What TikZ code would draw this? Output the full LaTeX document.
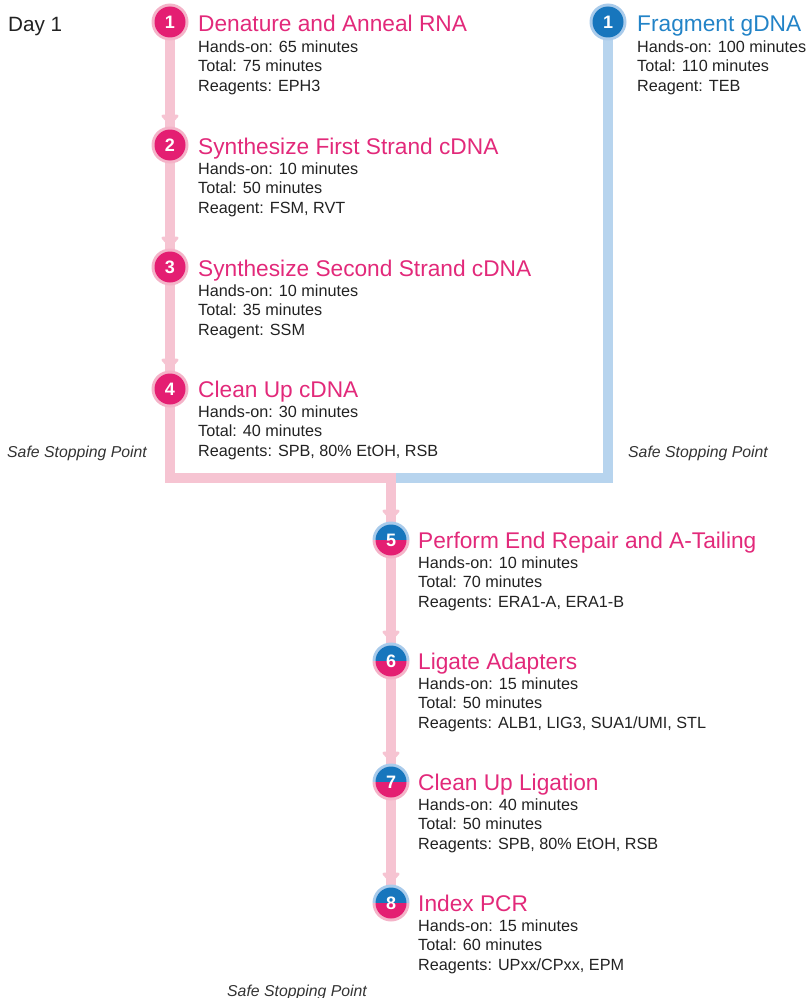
\documentclass[tikz,border=0pt]{standalone}
\usepackage{fontspec}
\setmainfont{Liberation Sans}
\usetikzlibrary{arrows.meta}
\definecolor{dotpink}{HTML}{E41E72}
\definecolor{titlepink}{HTML}{E2297A}
\definecolor{halopink}{HTML}{F4B3C8}
\definecolor{linepink}{HTML}{F6C4D2}
\definecolor{dotblue}{HTML}{1776BD}
\definecolor{titleblue}{HTML}{2283C7}
\definecolor{haloblue}{HTML}{A9CBEB}
\definecolor{lineblue}{HTML}{B7D4EE}
\definecolor{bodytext}{HTML}{222222}
\definecolor{notetext}{HTML}{333333}
\tikzset{
  stepdot/.style={circle, minimum size=37pt, inner sep=0pt, outer sep=0pt, text=white,
    font=\bfseries\fontsize{18}{18}\selectfont},
  pinkdot/.style={stepdot, fill=halopink,
    path picture={\fill[dotpink] (path picture bounding box.center) circle[radius=15.5pt];}},
  bluedot/.style={stepdot, fill=haloblue,
    path picture={\fill[dotblue] (path picture bounding box.center) circle[radius=15.5pt];}},
  splitdot/.style={stepdot,
    path picture={
      \fill[haloblue] (path picture bounding box.center) ++(-20pt,0pt) rectangle ++(40pt,20pt);
      \fill[halopink] (path picture bounding box.center) ++(-20pt,0pt) rectangle ++(40pt,-20pt);
      \begin{scope}
        \clip (path picture bounding box.center) circle[radius=15.5pt];
        \fill[dotblue] (path picture bounding box.center) ++(-20pt,0pt) rectangle ++(40pt,20pt);
        \fill[dotpink] (path picture bounding box.center) ++(-20pt,0pt) rectangle ++(40pt,-20pt);
      \end{scope}}},
  steptitle/.style={anchor=base west, inner sep=0pt, text=titlepink,
    font=\fontsize{22.7}{24}\selectfont},
  bluetitle/.style={steptitle, text=titleblue},
  stepbody/.style={anchor=base west, inner sep=0pt, text=bodytext, align=left,
    font=\fontsize{16.2}{19.8}\selectfont},
  stopnote/.style={anchor=base west, inner sep=0pt, text=notetext,
    font=\itshape\fontsize{15.8}{18}\selectfont},
  pinkflow/.style={draw=linepink, line width=10pt, line join=miter},
  blueflow/.style={draw=lineblue, line width=10pt, line join=miter},
  pinkarrow/.style={pinkflow, -{Triangle[width=20pt,length=11pt,round=false]}, shorten >=1.5pt}
}
\begin{document}
\begin{tikzpicture}[x=1pt,y=-1pt]
\useasboundingbox (0,0) rectangle (807,998);
% junction coordinates
\coordinate (pj) at (170,478);
\coordinate (mj) at (396,478);
\coordinate (bj) at (608,478);
\coordinate (dj) at (391,473);
% dot positions
\coordinate (c1) at (170,22);
\coordinate (c2) at (170,145);
\coordinate (c3) at (170,267);
\coordinate (c4) at (170,389);
\coordinate (b1) at (608,22);
\coordinate (c5) at (391,540);
\coordinate (c6) at (391,661);
\coordinate (c7) at (391,782);
\coordinate (c8) at (391,903);
% connectors (behind dots)
\path[pinkflow] (c1) -- (c2);
\path[pinkflow] (c2) -- (c3);
\path[pinkflow] (c3) -- (c4);
\path[pinkflow] (c4) -- (pj) -- (mj);
\path[blueflow] (b1) -- (bj) -- (mj);
\path[pinkflow] (dj) -- (c5);
\path[pinkflow] (c5) -- (c6);
\path[pinkflow] (c6) -- (c7);
\path[pinkflow] (c7) -- (c8);
% dots
\node[pinkdot] (n1) at (c1) {1};
\node[pinkdot] (n2) at (c2) {2};
\node[pinkdot] (n3) at (c3) {3};
\node[pinkdot] (n4) at (c4) {4};
\node[bluedot] (nb1) at (b1) {1};
\node[splitdot] (n5) at (c5) {5};
\node[splitdot] (n6) at (c6) {6};
\node[splitdot] (n7) at (c7) {7};
\node[splitdot] (n8) at (c8) {8};
% arrowheads
\path[pinkarrow] ([yshift=14pt]n2.north) -- (n2.north);
\path[pinkarrow] ([yshift=14pt]n3.north) -- (n3.north);
\path[pinkarrow] ([yshift=14pt]n4.north) -- (n4.north);
\path[pinkarrow] ([yshift=14pt]n5.north) -- (n5.north);
\path[pinkarrow] ([yshift=14pt]n6.north) -- (n6.north);
\path[pinkarrow] ([yshift=14pt]n7.north) -- (n7.north);
\path[pinkarrow] ([yshift=14pt]n8.north) -- (n8.north);
% texts
\node[anchor=base west, inner sep=0pt, text=bodytext, font=\fontsize{20.7}{22}\selectfont] (day) at (8,32) {Day 1};

\node[steptitle] (t1) at (198,32) {Denature and Anneal RNA};
\node[stepbody] (d1) at (198,91.6) {Hands-on: 65 minutes\\Total: 75 minutes\\Reagents: EPH3};
\node[steptitle] (t2) at (198,154) {Synthesize First Strand cDNA};
\node[stepbody] (d2) at (198,213.6) {Hands-on: 10 minutes\\Total: 50 minutes\\Reagent: FSM, RVT};
\node[steptitle] (t3) at (198,276) {Synthesize Second Strand cDNA};
\node[stepbody] (d3) at (198,335.6) {Hands-on: 10 minutes\\Total: 35 minutes\\Reagent: SSM};
\node[steptitle] (t4) at (198,397) {Clean Up cDNA};
\node[stepbody] (d4) at (198,456.6) {Hands-on: 30 minutes\\Total: 40 minutes\\Reagents: SPB, 80\% EtOH, RSB};

\node[bluetitle] (tb1) at (637,32) {Fragment gDNA};
\node[stepbody] (db1) at (637,91.6) {Hands-on: 100 minutes\\Total: 110 minutes\\Reagent: TEB};

\node[steptitle] (t5) at (418,548) {Perform End Repair and A-Tailing};
\node[stepbody] (d5) at (418,607.6) {Hands-on: 10 minutes\\Total: 70 minutes\\Reagents: ERA1-A, ERA1-B};
\node[steptitle] (t6) at (418,669) {Ligate Adapters};
\node[stepbody] (d6) at (418,728.6) {Hands-on: 15 minutes\\Total: 50 minutes\\Reagents: ALB1, LIG3, SUA1/UMI, STL};
\node[steptitle] (t7) at (418,790) {Clean Up Ligation};
\node[stepbody] (d7) at (418,849.6) {Hands-on: 40 minutes\\Total: 50 minutes\\Reagents: SPB, 80\% EtOH, RSB};
\node[steptitle] (t8) at (418,911) {Index PCR};
\node[stepbody] (d8) at (418,970.6) {Hands-on: 15 minutes\\Total: 60 minutes\\Reagents: UPxx/CPxx, EPM};

\node[stopnote] (s1) at (7,457) {Safe Stopping Point};
\node[stopnote] (s2) at (628,457) {Safe Stopping Point};
\node[stopnote] (s3) at (227,996) {Safe Stopping Point};
\end{tikzpicture}
\end{document}
